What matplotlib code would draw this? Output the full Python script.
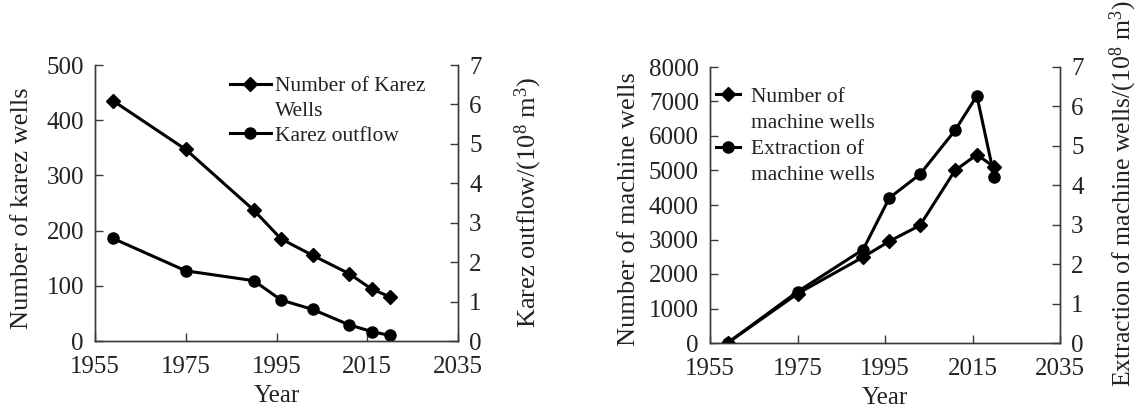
import matplotlib
matplotlib.use("Agg")
import matplotlib.pyplot as plt
from matplotlib.lines import Line2D

plt.rcParams['font.family'] = ['Liberation Serif', 'DejaVu Serif']
plt.rcParams['mathtext.fontset'] = 'custom'
plt.rcParams['mathtext.rm'] = 'Liberation Serif'
plt.rcParams['mathtext.it'] = 'Liberation Serif:italic'

TXT = '#222222'
SPINE = '#3a3a3a'

# data
years = [1959, 1975, 1990, 1996, 2003, 2011, 2016, 2020]
karez_wells = [435, 347, 237, 185, 155, 122, 94, 80]
karez_outflow = [2.60, 1.78, 1.53, 1.04, 0.80, 0.41, 0.24, 0.14]
machine_wells = [0, 1430, 2490, 2950, 3410, 5000, 5460, 5100]
machine_extraction = [0, 1.30, 2.37, 3.68, 4.28, 5.39, 6.27, 4.21]

xticks = [1955, 1975, 1995, 2015, 2035]


def style(ax):
    for s in ax.spines.values():
        s.set_color(SPINE)
        s.set_linewidth(1.0)
    ax.spines['top'].set_visible(False)
    ax.tick_params(direction='in', length=5.5, width=1.0, color=SPINE,
                   labelsize=18, labelcolor=TXT, pad=8)
    ax.tick_params(axis='x', pad=10.5)


fig = plt.figure(figsize=(11.38, 4.13), dpi=100)
blank = Line2D([], [], linestyle='none', marker='none')

# ---- left panel: karez
ax1 = fig.add_axes([95 / 1138, 1 - 341 / 413, 363 / 1138, 276 / 413])
ax1b = ax1.twinx()
l1, = ax1.plot(years, karez_wells, color='black', lw=2.2, marker='D', ms=7)
l2, = ax1b.plot(years, karez_outflow, color='black', lw=2.2, marker='o', ms=8)
ax1.set_xlim(1955, 2035)
ax1.set_xticks(xticks)
ax1.set_ylim(0, 500)
ax1.set_yticks(range(0, 501, 100))
ax1b.set_ylim(0, 7)
ax1b.set_yticks(range(0, 8))
style(ax1)
style(ax1b)
ax1.set_xlabel('Year', fontsize=18, color=TXT, labelpad=5)
ax1.set_ylabel('Number of karez wells', fontsize=19, color=TXT)
ax1.yaxis.set_label_coords(-0.17, 0.48)
ax1b.set_ylabel(r'Karez outflow/(10$^{8}$ m$^{3}$)', fontsize=19, color=TXT)
ax1b.yaxis.set_label_coords(1.15, 0.5)
ax1.legend([l1, blank, l2], ['Number of Karez', 'Wells', 'Karez outflow'],
           loc='upper left', bbox_to_anchor=(0.372, 0.96), frameon=False,
           fontsize=15.5, handlelength=1.9, handletextpad=0.2,
           labelspacing=0.22, borderpad=0, borderaxespad=0, labelcolor=TXT)

# ---- right panel: machine wells
ax2 = fig.add_axes([710 / 1138, 1 - 343 / 413, 350 / 1138, 276 / 413])
ax2b = ax2.twinx()
m1, = ax2.plot(years, machine_wells, color='black', lw=2.2, marker='D', ms=7)
m2, = ax2b.plot(years, machine_extraction, color='black', lw=2.2, marker='o', ms=8)
ax2.set_xlim(1955, 2035)
ax2.set_xticks(xticks)
ax2.set_ylim(0, 8000)
ax2.set_yticks(range(0, 8001, 1000))
ax2b.set_ylim(0, 7)
ax2b.set_yticks(range(0, 8))
style(ax2)
style(ax2b)
ax2.set_xlabel('Year', fontsize=18, color=TXT, labelpad=5)
ax2.set_ylabel('Number of machine wells', fontsize=19, color=TXT)
ax2.yaxis.set_label_coords(-0.2, 0.485)
ax2b.set_ylabel(r'Extraction of machine wells/(10$^{8}$ m$^{3}$)', fontsize=18.5, color=TXT)
ax2b.yaxis.set_label_coords(1.137, 0.54)
ax2.legend([m1, blank, m2, blank],
           ['Number of', 'machine wells', 'Extraction of', 'machine wells'],
           loc='upper left', bbox_to_anchor=(0.017, 0.928), frameon=False,
           fontsize=15.5, handlelength=1.1, handletextpad=0.55,
           labelspacing=0.28, borderpad=0, borderaxespad=0, labelcolor=TXT)

fig.savefig('out.png', dpi=100)
